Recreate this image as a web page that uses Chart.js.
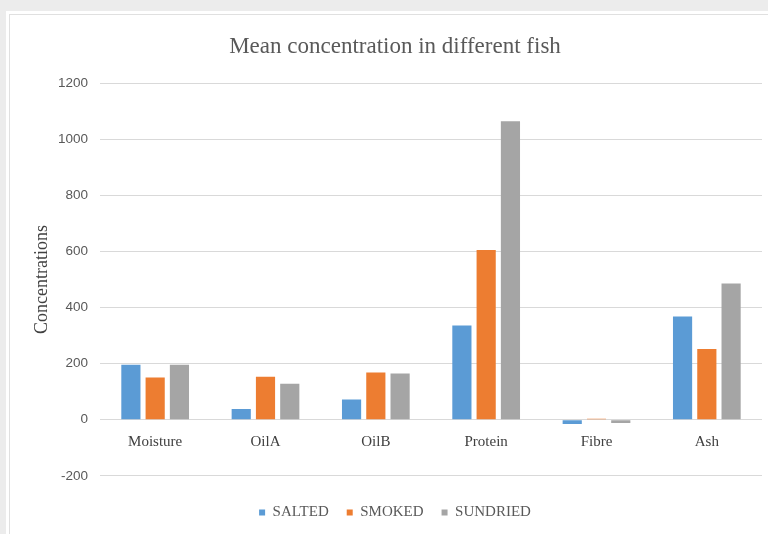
<!DOCTYPE html>
<html>
<head>
<meta charset="utf-8">
<script src="https://cdn.jsdelivr.net/npm/chart.js@4"></script>
<style>
  html, body { margin: 0; padding: 0; width: 768px; height: 534px; overflow: hidden; background: #ececec; }
  #panel { position: absolute; left: 6px; top: 11px; width: 800px; height: 560px; background: #fff; }
  #frame { position: absolute; left: 9px; top: 14px; width: 800px; height: 560px; border: 1px solid #e0e0e0; border-width: 1px 0 0 1px; }
  #wrap { position: absolute; left: 0; top: 0; width: 768px; height: 534px; }
</style>
</head>
<body>
<div id="panel"></div>
<div id="frame"></div>
<div id="wrap"><canvas id="chart" width="768" height="534"></canvas></div>
<script>
// chart data
const categories = ["Moisture", "OilA", "OilB", "Protein", "Fibre", "Ash"];
const salted = [196, 38, 72, 336, -15, 368];
const smoked = [150, 153, 168, 605, 3, 252];
const sundried = [196, 128, 165, 1064, -12, 485];
const seriesNames = ["SALTED", "SMOKED", "SUNDRIED"];
const seriesColors = ["#5b9bd5", "#ed7d31", "#a5a5a5"];

const serif = "'Liberation Serif', 'DejaVu Serif', serif";
const sans = "'Liberation Sans', Arial, sans-serif";

const ctx = document.getElementById("chart").getContext("2d");

const datasets = [salted, smoked, sundried].map((vals, i) => ({
  label: seriesNames[i],
  data: vals,
  backgroundColor: seriesColors[i],
  borderWidth: 0,
  categoryPercentage: 0.66,
  barPercentage: 0.79
}));

new Chart(ctx, {
  type: "bar",
  data: { labels: categories, datasets },
  options: {
    responsive: false,
    animation: false,
    layout: { padding: { left: 28, right: 6, top: 0, bottom: 4 } },
    plugins: {
      title: {
        display: true,
        text: "Mean concentration in different fish",
        color: "#595959",
        font: { family: serif, size: 23, weight: "normal" },
        padding: { top: 33, bottom: 22.4 }
      },
      legend: {
        position: "bottom",
        // empty title only used as a spacer above the legend items
        title: { display: true, text: " ", font: { size: 1 }, padding: { top: 10, bottom: 0 } },
        labels: {
          boxWidth: 6,
          boxHeight: 6,
          padding: 18,
          color: "#595959",
          font: { family: serif, size: 15 }
        }
      },
      tooltip: { enabled: false }
    },
    scales: {
      x: {
        position: { y: 0 },
        grid: { display: false, drawTicks: false },
        border: { display: false },
        ticks: {
          padding: 13,
          color: "#404040",
          font: { family: serif, size: 15 }
        }
      },
      y: {
        min: -200,
        max: 1200,
        afterFit: scale => { scale.width = 72; },
        grid: { color: "#d9d9d9", drawTicks: false },
        border: { display: false },
        ticks: {
          stepSize: 200,
          padding: 12,
          color: "#595959",
          font: { family: sans, size: 13.5 },
          callback: v => String(v)
        },
        title: {
          display: true,
          text: "Concentrations",
          color: "#404040",
          font: { family: serif, size: 18 },
          padding: { top: 3, bottom: 0 }
        }
      }
    }
  }
});
</script>
</body>
</html>
